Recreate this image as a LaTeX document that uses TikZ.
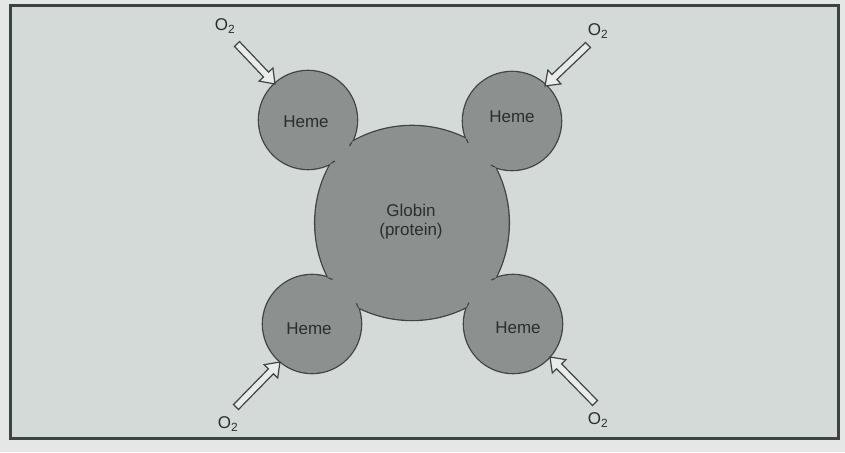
\documentclass[tikz,border=0pt]{standalone}
\usepackage{fontspec}
\setmainfont{Liberation Sans}
\usetikzlibrary{calc,intersections}
\definecolor{bgout}{HTML}{E4E7E5}
\definecolor{bgin}{HTML}{D3DAD8}
\definecolor{framec}{HTML}{3C4443}
\definecolor{blobfill}{HTML}{8C908E}
\definecolor{blobline}{HTML}{404443}
\definecolor{txt}{HTML}{2A2E2D}
\definecolor{arrfill}{HTML}{E9ECEA}
\tikzset{
  lbl/.style={text=txt,font=\fontsize{17}{19}\selectfont,inner sep=0pt,align=center},
  hollowarr/.style={draw=blobline,fill=arrfill,line width=1.2pt,line join=miter},
  blobedge/.style={draw=blobline,line width=2.6pt},
  blobinner/.style={fill=blobfill},
  tick/.style={draw=blobline,line width=1.2pt},
}
\newcommand\hollowarrow[2]{%
  \path let \p1=($(#2)-(#1)$) in \pgfextra{%
    \pgfmathparse{atan2(\y1,\x1)}\xdef\arrang{\pgfmathresult}%
    \pgfmathparse{veclen(\x1,\y1)}\xdef\arrlen{\pgfmathresult}};
  \begin{scope}[shift={(#1)},rotate=\arrang]
    \draw[hollowarr] (0,-3.5) -- ({\arrlen-13},-3.5) -- ({\arrlen-13},-9.5) -- (\arrlen,0)
      -- ({\arrlen-13},9.5) -- ({\arrlen-13},3.5) -- (0,3.5) -- cycle;
  \end{scope}}
\newcommand\globinpath{(340,302) arc[start angle=126.87,end angle=53.13,radius=120]
  arc[start angle=37.46,end angle=-37.46,radius=120]
  arc[start angle=-53.13,end angle=-126.87,radius=120]
  arc[start angle=217.46,end angle=142.54,radius=120] -- cycle}
\newcommand\hemeticks[2]{% center, intersection prefix
  \draw[tick] let \p1=($(#2-1)-(#1)$), \p2=($(#2-2)-(#1)$),
      \n1={atan2(\y1,\x1)}, \n2={atan2(\y2,\x2)}, \n3={5*sign(\n2-\n1)} in
    (#2-1) arc[start angle=\n1,end angle=\n1+\n3,radius=49]
    (#2-2) arc[start angle=\n2,end angle=\n2-\n3,radius=49];}
\begin{document}
\begin{tikzpicture}[x=1pt,y=1pt]
\useasboundingbox (0,0) rectangle (845,452);
\fill[bgout] (0,0) rectangle (845,452);
\draw[framec,line width=3pt,fill=bgin] (10,14) rectangle (838,446);
\coordinate (c1) at (308,332);
\coordinate (c2) at (512,331);
\coordinate (c3) at (312,128);
\coordinate (c4) at (513,128);
% blob outlines
\draw[blobedge,name path=gp] \globinpath;
\draw[blobedge,name path=hp1] (c1) circle[radius=49];
\draw[blobedge,name path=hp2] (c2) circle[radius=49];
\draw[blobedge,name path=hp3] (c3) circle[radius=49];
\draw[blobedge,name path=hp4] (c4) circle[radius=49];
% blob fills
\fill[blobinner] \globinpath;
\fill[blobinner] (c1) circle[radius=49];
\fill[blobinner] (c2) circle[radius=49];
\fill[blobinner] (c3) circle[radius=49];
\fill[blobinner] (c4) circle[radius=49];
% small junction ticks
\path[name intersections={of=gp and hp1,name=xa}];
\path[name intersections={of=gp and hp2,name=xb}];
\path[name intersections={of=gp and hp3,name=xc}];
\path[name intersections={of=gp and hp4,name=xd}];
\hemeticks{c1}{xa}
\hemeticks{c2}{xb}
\hemeticks{c3}{xc}
\hemeticks{c4}{xd}
% labels
\node[lbl] (globin) at (411,230.5) {Globin\\(protein)};
\node[lbl] (h1) at (306,330) {Heme};
\node[lbl] (h2) at (512,335) {Heme};
\node[lbl] (h3) at (309,123) {Heme};
\node[lbl] (h4) at (518,124) {Heme};
\node[lbl] (o1) at (225,426) {O\textsubscript{2}};
\node[lbl] (o2) at (598,421) {O\textsubscript{2}};
\node[lbl] (o3) at (228,28) {O\textsubscript{2}};
\node[lbl] (o4) at (598,32) {O\textsubscript{2}};
% arrows
\coordinate (t1) at (237,408); \coordinate (p1) at (275,368);
\coordinate (t2) at (588,407); \coordinate (p2) at (545,366);
\coordinate (t3) at (236,45);  \coordinate (p3) at (280,90);
\coordinate (t4) at (595,49);  \coordinate (p4) at (550,95);
\hollowarrow{t1}{p1}
\hollowarrow{t2}{p2}
\hollowarrow{t3}{p3}
\hollowarrow{t4}{p4}
\end{tikzpicture}
\end{document}
